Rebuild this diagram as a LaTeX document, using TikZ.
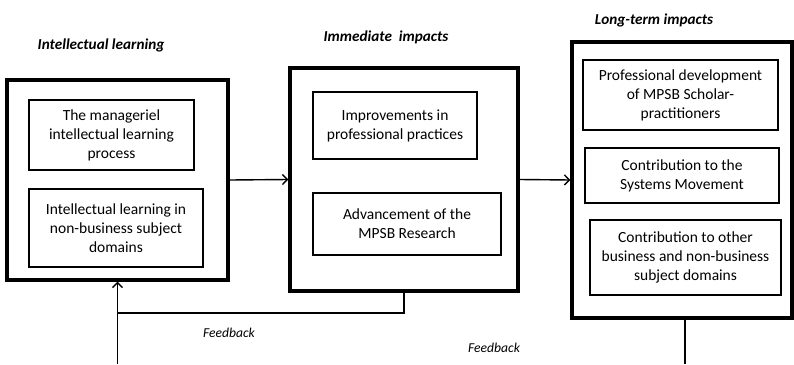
\documentclass[tikz,border=0pt]{standalone}
\usepackage{fontspec}
\setmainfont{Carlito}
\usetikzlibrary{positioning,arrows.meta}
\tikzstyle{outer}=[draw,line width=3.2pt,inner sep=0pt]
\tikzstyle{inner}=[draw,line width=2pt,align=center,inner sep=0pt,font=\fontsize{15.5}{19}\selectfont]
\tikzstyle{heading}=[font=\fontsize{15.2}{18}\selectfont\bfseries\itshape]
\tikzstyle{fbtext}=[font=\fontsize{13.6}{16}\selectfont\itshape]
\tikzstyle{flow}=[line width=1.4pt,>={Straight Barb[length=5pt,width=10pt,line width=1.4pt]}]

\begin{document}
\begin{tikzpicture}[x=1pt,y=-1pt]
\useasboundingbox (0,0) rectangle (794,364);
% headings
\node[heading] at (101,45) (hl) {Intellectual learning};
\node[heading] at (386,37) (hm) {Immediate~ impacts};
\node[heading] at (654,20) (hr) {Long-term impacts};

% outer boxes
\node[outer,minimum width=221pt,minimum height=200pt] at (117.5,180) (l) {};
\node[outer,minimum width=228pt,minimum height=223pt] at (404,179.5) (m) {};
\node[outer,minimum width=220pt,minimum height=276pt] at (682,180) (r) {};

% inner boxes
\node[inner,minimum width=165pt,minimum height=70pt] at (111.5,135) (l1) {The manageriel\\intellectual learning\\process};
\node[inner,minimum width=174pt,minimum height=78pt] at (116,228) (l2) {Intellectual learning in\\non-business subject\\domains};
\node[inner,minimum width=164pt,minimum height=67pt] at (395,125.5) (m1) {Improvements in\\professional practices};
\node[inner,minimum width=188pt,minimum height=62pt] at (407,224) (m2) {Advancement of the\\MPSB Research};
\node[inner,minimum width=195pt,minimum height=70pt] at (680.5,95) (r1) {Professional development\\of MPSB Scholar-\\practitioners};
\node[inner,minimum width=194pt,minimum height=55pt] at (682,175.5) (r2) {Contribution to the\\Systems Movement};
\node[inner,minimum width=191pt,minimum height=75pt] at (685.5,257.5) (r3) {Contribution to other\\business and non-business\\subject domains};

% flow
\draw[->,flow] (l.east) -- (m.west);
\draw[->,flow] (m.east) -- (r.west);

% feedback
\coordinate (f1) at (404,313);
\coordinate (lb) at (117.5,364);
\coordinate (rb) at (685,364);
\draw[flow] (m.south -| f1) -- (f1) -- (f1 -| l.south);
\draw[->,flow] (lb) -- (l.south);
\draw[flow] (r.south -| rb) -- (rb);
\node[fbtext] at (229,333) (fb1) {Feedback};
\node[fbtext] at (494,348) (fb2) {Feedback};

\end{tikzpicture}
\end{document}
